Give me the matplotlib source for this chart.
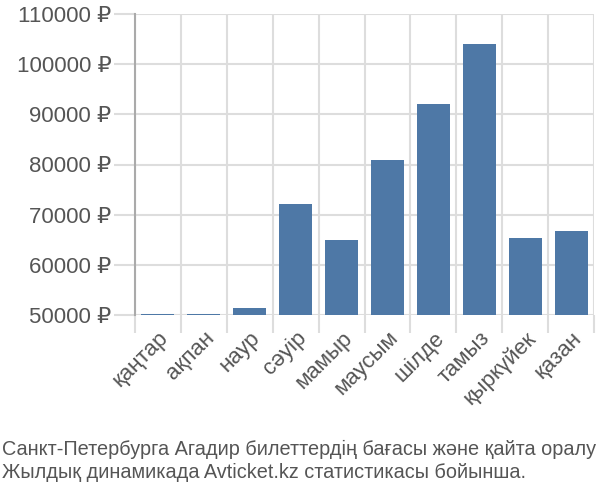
import matplotlib.pyplot as plt
from matplotlib import font_manager

months = ['қаңтар', 'ақпан', 'наур', 'сәуір', 'мамыр', 'маусым',
          'шілде', 'тамыз', 'қыркүйек', 'қазан']
prices = [50200, 50200, 51400, 72100, 64900, 80900, 92000, 104000, 65300, 66700]
y_ticks = [50000, 60000, 70000, 80000, 90000, 100000, 110000]
caption = ('Санкт-Петербурга Агадир билеттердің бағасы және қайта оралу\n'
           'Жылдық динамикада Avticket.kz статистикасы бойынша.')

names = {f.name for f in font_manager.fontManager.ttflist}
narrow = 'Liberation Sans Narrow' if 'Liberation Sans Narrow' in names else 'Liberation Sans'
plt.rcParams['font.family'] = ['Liberation Sans', 'DejaVu Sans']

grey_text = '#555555'
grid_col = '#dddddd'

fig = plt.figure(figsize=(6, 5), dpi=100)
ax = fig.add_axes([0.225, 0.37, 0.765, 0.602])

x = list(range(len(months)))
ax.bar(x, prices, width=0.72, color='#4e78a6', zorder=3)

ax.set_ylim(50000, 110000)
ax.set_xlim(-0.5, len(months) - 0.5)
ax.set_yticks(y_ticks)
ax.set_yticklabels([f'{v} ₽' for v in y_ticks])

# vertical grid between categories, drawn as minor ticks
ax.set_xticks([i - 0.5 for i in range(len(months) + 1)], minor=True)
ax.set_xticks(x)
ax.set_xticklabels(months, rotation=45, ha='right', rotation_mode='anchor')
ax.tick_params(axis='x', which='major', length=0, labelsize=16,
               labelcolor=grey_text, pad=9)
ax.tick_params(axis='x', which='minor', length=13, color=grid_col, width=1.5)
ax.tick_params(axis='y', length=15, color=grid_col, width=1.5,
               labelsize=16, labelcolor=grey_text, pad=2)

ax.grid(axis='y', color=grid_col, linewidth=1.5, zorder=0)
ax.grid(axis='x', which='minor', color=grid_col, linewidth=1.5, zorder=0)

for side in ['top', 'right', 'bottom']:
    ax.spines[side].set_visible(False)
ax.spines['left'].set_color('#aaaaaa')
ax.spines['left'].set_linewidth(1.5)
ax.spines['left'].set_bounds(50000, 110000)

fig.text(0.003, 0.035, caption, fontsize=14.3, color=grey_text,
         family=[narrow, 'DejaVu Sans'], linespacing=1.3, va='bottom')

fig.savefig('out.png', dpi=100)
